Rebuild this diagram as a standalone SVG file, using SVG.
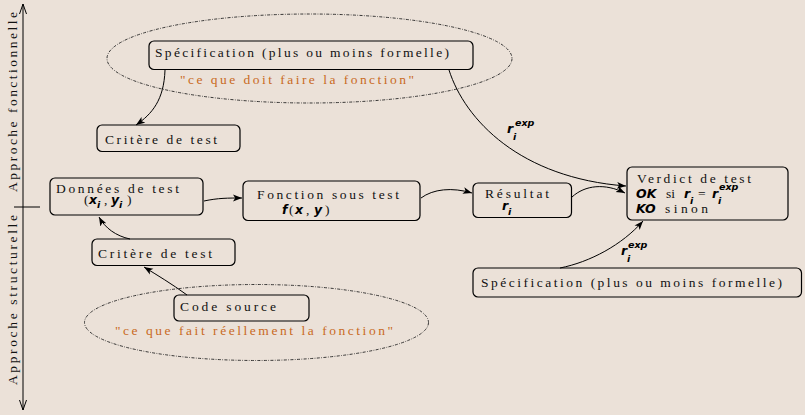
<svg xmlns="http://www.w3.org/2000/svg" width="805" height="415" viewBox="0 0 805 415">
  <defs>
    <marker id="tip" markerUnits="userSpaceOnUse" markerWidth="12" markerHeight="10" refX="9" refY="4" orient="auto">
      <path d="M0,0.6 L9,4 L0,7.4 L2.2,4 z" fill="#000"/>
    </marker>
  </defs>
  <style>
    .box { fill: none; stroke: #000; stroke-width: 1.2; }
    .cloud { fill: none; stroke: #222; stroke-width: 0.9; stroke-dasharray: 3 1.4 0.8 1.4; }
    .edge { fill: none; stroke: #000; stroke-width: 1; marker-end: url(#tip); }
    .lbl { font-family: "Liberation Serif", "DejaVu Serif", serif; font-size: 13.5px; fill: #111; }
    .note { font-family: "Liberation Serif", "DejaVu Serif", serif; font-size: 13.5px; fill: #c96a1e; }
    .m { font-family: "DejaVu Sans", "Liberation Sans", sans-serif; font-weight: bold; font-style: oblique; font-size: 12.5px; fill: #000; }
    .ms { font-size: 9.5px; }
    .axis { fill: none; stroke: #000; stroke-width: 1; }
  </style>

  <rect x="0" y="0" width="805" height="415" fill="#ebe1d8"/>

  <!-- vertical axis: functional (up) vs structural (down) -->
  <g id="axis">
    <line class="axis" x1="23" y1="4" x2="23" y2="410"/>
    <polyline class="axis" points="19.5,14 23,4 26.5,14"/>
    <polyline class="axis" points="19.5,400 23,410 26.5,400"/>
    <line class="axis" x1="14" y1="207" x2="40" y2="207"/>
    <text class="lbl" transform="translate(17,192) rotate(-90)" textLength="180" lengthAdjust="spacing">Approche fonctionnelle</text>
    <text class="lbl" transform="translate(17,385) rotate(-90)" textLength="170" lengthAdjust="spacing">Approche structurelle</text>
  </g>

  <!-- dotted clouds -->
  <g id="cloud-spec">
    <ellipse class="cloud" cx="309.5" cy="58.5" rx="202.5" ry="44.5"/>
    <text class="note" x="180" y="84" textLength="234" lengthAdjust="spacing">"ce que doit faire la fonction"</text>
  </g>
  <g id="cloud-code">
    <ellipse class="cloud" cx="256.5" cy="322.5" rx="172" ry="38"/>
    <text class="note" x="115" y="335" textLength="278" lengthAdjust="spacing">"ce que fait réellement la fonction"</text>
  </g>

  <!-- nodes -->
  <g id="spec-top">
    <rect class="box" x="149" y="41" width="324" height="28.5" rx="5"/>
    <text class="lbl" x="155" y="57" textLength="294" lengthAdjust="spacing">Spécification (plus ou moins formelle)</text>
  </g>

  <g id="critere-top">
    <rect class="box" x="97" y="125" width="143" height="26.5" rx="5"/>
    <text class="lbl" x="105" y="144" textLength="112" lengthAdjust="spacing">Critère de test</text>
  </g>

  <g id="donnees">
    <rect class="box" x="50" y="178" width="153" height="37" rx="5"/>
    <text class="lbl" x="56" y="193" textLength="123" lengthAdjust="spacing">Données de test</text>
    <text class="lbl" x="84" y="204">(<tspan class="m" x="89">x</tspan><tspan class="m ms" x="97" dy="3.5">i</tspan><tspan x="104" dy="-3.5">,</tspan><tspan class="m" x="111">y</tspan><tspan class="m ms" x="119" dy="3.5">i</tspan><tspan x="127" dy="-3.5">)</tspan></text>
  </g>

  <g id="fonction">
    <rect class="box" x="243" y="181" width="177" height="39.5" rx="5"/>
    <text class="lbl" x="257" y="199" textLength="142" lengthAdjust="spacing">Fonction sous test</text>
    <text class="lbl" x="282" y="214"><tspan class="m">f</tspan><tspan x="289">(</tspan><tspan class="m" x="295">x</tspan><tspan x="306">,</tspan><tspan class="m" x="314">y</tspan><tspan x="325">)</tspan></text>
  </g>

  <g id="resultat">
    <rect class="box" x="473" y="183" width="98.5" height="34.5" rx="5"/>
    <text class="lbl" x="485" y="198" textLength="64" lengthAdjust="spacing">Résultat</text>
    <text class="m" x="502" y="210">r<tspan class="ms" x="508" dy="4.5">i</tspan></text>
  </g>

  <g id="verdict">
    <rect class="box" x="627" y="167" width="161" height="53" rx="5"/>
    <text class="lbl" x="637" y="183" textLength="114" lengthAdjust="spacing">Verdict de test</text>
    <text class="lbl" x="636" y="198"><tspan class="m">OK</tspan><tspan x="666">si</tspan><tspan class="m" x="684">r</tspan><tspan class="m ms" x="690" dy="6">i</tspan><tspan x="698" dy="-6">=</tspan><tspan class="m" x="712">r</tspan><tspan class="m ms" x="718" dy="6">i</tspan><tspan class="m ms" x="719" dy="-14">exp</tspan></text>
    <text class="lbl" x="636" y="213"><tspan class="m">KO</tspan><tspan x="665" textLength="43" lengthAdjust="spacing">sinon</tspan></text>
  </g>

  <g id="spec-bottom">
    <rect class="box" x="473" y="268" width="328.5" height="29" rx="5"/>
    <text class="lbl" x="481" y="287" textLength="301" lengthAdjust="spacing">Spécification (plus ou moins formelle)</text>
  </g>

  <g id="critere-bottom">
    <rect class="box" x="92" y="239" width="143" height="26.5" rx="5"/>
    <text class="lbl" x="98" y="258" textLength="114" lengthAdjust="spacing">Critère de test</text>
  </g>

  <g id="code-source">
    <rect class="box" x="174" y="295" width="135" height="26" rx="5"/>
    <text class="lbl" x="180" y="311" textLength="96" lengthAdjust="spacing">Code source</text>
  </g>

  <!-- connectors -->
  <g id="connectors">
    <path class="edge" d="M165,70 C164,100 152,114 136,125"/>
    <path class="edge" d="M130,239 C116,236 105,228 99,217"/>
    <path class="edge" d="M187,295 C172,284 157,275 144,267"/>
    <path class="edge" d="M204,201 C218,198 228,198 242,198"/>
    <path class="edge" d="M421,198 C433,189 452,187 472,193"/>
    <path class="edge" d="M572,197 C585,185 605,183 625,193"/>
    <path class="edge" d="M449,70 C465,120 520,178 626,186"/>
    <path class="edge" d="M560,268 C590,262 622,245 643,221"/>

    <!-- expected-result labels on the specification edges -->
    <text class="m" x="507" y="133">r<tspan class="ms" x="513" dy="7">i</tspan><tspan class="ms" x="515" dy="-14">exp</tspan></text>
    <text class="m" x="621" y="255">r<tspan class="ms" x="627" dy="7">i</tspan><tspan class="ms" x="628" dy="-14">exp</tspan></text>
  </g>
</svg>
